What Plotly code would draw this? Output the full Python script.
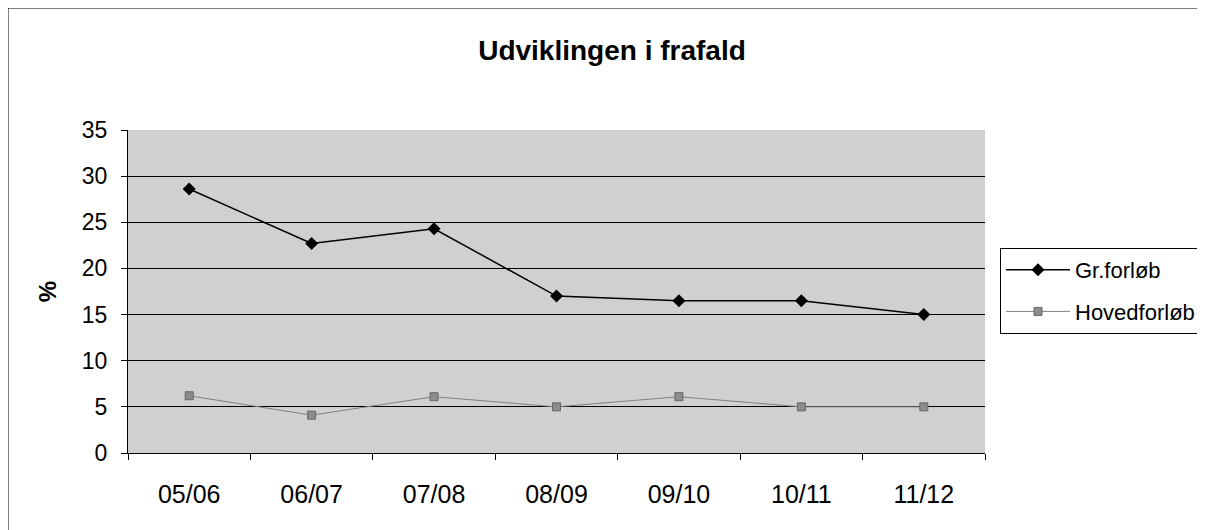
import plotly.graph_objects as go

categories = ["05/06", "06/07", "07/08", "08/09", "09/10", "10/11", "11/12"]
gr_forlob = [28.6, 22.7, 24.3, 17.0, 16.5, 16.5, 15.0]
hovedforlob = [6.2, 4.1, 6.1, 5.0, 6.1, 5.0, 5.0]
y_ticks = [0, 5, 10, 15, 20, 25, 30, 35]
series_names = ["Gr.forløb", "Hovedforløb"]

fig = go.Figure()
fig.add_trace(go.Scatter(
    x=categories, y=gr_forlob, name=series_names[0], mode="lines+markers",
    line=dict(color="black", width=1.5), legendgroup="a",
    marker=dict(symbol="diamond", size=10, color="black"),
))
fig.add_trace(go.Scatter(
    x=categories, y=hovedforlob, name=series_names[1], mode="lines+markers",
    line=dict(color="#808080", width=1), legendgroup="b",
    marker=dict(symbol="square", size=8, color="#8c8c8c", line=dict(color="#666", width=1)),
))

# page offset of 8px (body margin) compensated
W, H = 1197, 522
L, T, R, B = 120, 122, 220, 77
pw, ph = W - L - R, H - T - B

fig.update_layout(
    width=W, height=H,
    margin=dict(l=L, r=R, t=T, b=B, autoexpand=False),
    paper_bgcolor="white",
    plot_bgcolor="#d0d0d0",
    font=dict(family="Liberation Sans, Arial, sans-serif", size=22, color="black"),
    title=dict(text="<b>Udviklingen i frafald</b>", x=(612 - 8) / W, xanchor="center",
               y=1 - 42 / H, yanchor="middle", font=dict(size=28)),
    showlegend=True,
    legend=dict(x=1 + 15 / pw, xanchor="left", y=(ph - (240 - T)) / ph, yanchor="top",
                bordercolor="black", borderwidth=1, bgcolor="white",
                font=dict(size=22), itemwidth=64, tracegroupgap=10),
    xaxis=dict(type="category", showgrid=False, showline=True, linecolor="black", linewidth=1,
               ticks="outside", tickson="boundaries", ticklen=6, tickcolor="black",
               range=[-0.5, 6.5], tickfont=dict(size=25), ticklabelstandoff=19),
    yaxis=dict(range=[0, 35], tickvals=y_ticks, showgrid=True, gridcolor="black", gridwidth=1,
               showline=True, linecolor="black", linewidth=1, ticks="outside", ticklen=6,
               tickcolor="black", zeroline=False, tickfont=dict(size=23), ticklabelstandoff=9,
               title=dict(text="<b>%</b>", font=dict(size=24), standoff=18)),
    shapes=[
        dict(type="line", xref="paper", yref="paper",
             x0=-L / pw, x1=(W - L) / pw, y0=1 + T / ph, y1=1 + T / ph,
             line=dict(color="black", width=1)),
        dict(type="line", xref="paper", yref="paper",
             x0=-L / pw, x1=-L / pw, y0=-B / ph, y1=1 + T / ph,
             line=dict(color="black", width=1)),
    ],
)

fig.write_html("out.html")
